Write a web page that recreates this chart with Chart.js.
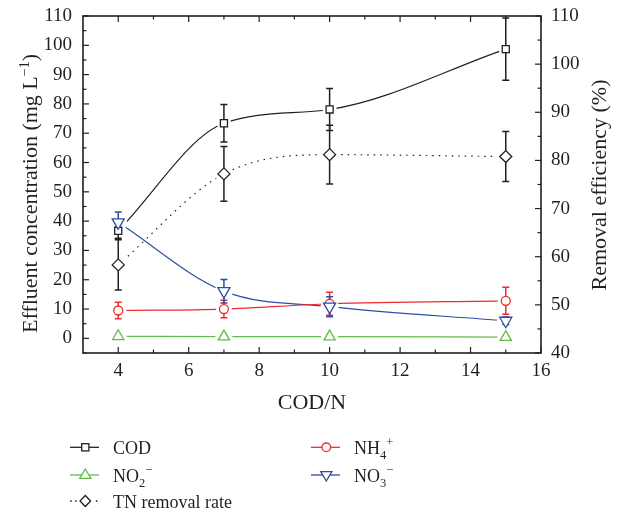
<!DOCTYPE html>
<html>
<head>
<meta charset="utf-8">
<script src="https://cdn.jsdelivr.net/npm/chart.js@4.4.0/dist/chart.umd.min.js"></script>
<style>
  html, body { margin: 0; padding: 0; background: #fff; }
  #wrap { position: relative; width: 619px; height: 511px; }
  #c { position: absolute; left: 0; top: 0; }
  #ov { position: absolute; left: 0; top: 0; pointer-events: none; }
  #ov text { font-family: "Liberation Serif", "DejaVu Serif", serif; fill: #231f20; }
</style>
</head>
<body>
<div id="wrap">
  <canvas id="c" width="619" height="511"></canvas>
  <svg id="ov" width="619" height="511" xmlns="http://www.w3.org/2000/svg">
    <!-- axis titles -->
    <text transform="translate(36.7,193.5) rotate(-90)" text-anchor="middle" font-size="22">Effluent concentration (mg L<tspan font-size="14" dy="-8">−1</tspan><tspan dy="8">)</tspan></text>
    <text transform="translate(606,185) rotate(-90)" text-anchor="middle" font-size="22">Removal efficiency (%)</text>
    <!-- legend -->
    <g id="legend"></g>
  </svg>
</div>
<script>
// ---------------- data ----------------
const codN = [4, 7, 10, 15];
const codValues = [36.7, 73.4, 78.1, 98.7];
const codErr = [2.5, 6.4, 7.2, 10.6];
const nh4Values = [9.5, 10.0, 11.8, 12.8];
const nh4Err = [2.8, 3.0, 3.9, 4.6];
const no2Values = [0.7, 0.6, 0.6, 0.4];
const no2Err = [0.6, 0.5, 0.5, 0.5];
const no3Values = [39.6, 16.1, 10.8, 6.0];
const no3Err = [3.5, 4.0, 3.4, 1.3];
const tnValues = [58.3, 77.2, 81.2, 80.8];
const tnErr = [5.2, 5.7, 6.1, 5.2];

const xTicks = [4, 6, 8, 10, 12, 14, 16];
const xMinorTicks = [5, 7, 9, 11, 13, 15];
const yTicks = [0, 10, 20, 30, 40, 50, 60, 70, 80, 90, 100, 110];
const yMinorTicks = [-5, 5, 15, 25, 35, 45, 55, 65, 75, 85, 95, 105];
const y2Ticks = [40, 50, 60, 70, 80, 90, 100, 110];
const y2MinorTicks = [45, 55, 65, 75, 85, 95, 105];

const BLACK = '#231f20', RED = '#ee2b2f', GREEN = '#62bb47', BLUE = '#2c4ea3';
const FONT = '"Liberation Serif", "DejaVu Serif", serif';

const pts = vals => vals.map((v, i) => ({ x: codN[i], y: v }));

function series(label, vals, errs, color, style, radius, rotation, axis, halo, dash) {
  return {
    label, data: pts(vals), errors: errs, halo,
    yAxisID: axis,
    borderColor: color, backgroundColor: '#fff',
    borderWidth: 1.2, borderDash: dash || [],
    cubicInterpolationMode: 'monotone',
    pointStyle: style, pointRadius: radius, pointRotation: rotation || 0,
    pointBorderColor: color, pointBackgroundColor: '#fff', pointBorderWidth: 1.3,
    fill: false
  };
}

const datasets = [
  series('COD', codValues, codErr, BLACK, 'rect', 5, 0, 'y', 7),
  series('NH4+', nh4Values, nh4Err, RED, 'circle', 4.5, 0, 'y', 8),
  series('NO2-', no2Values, no2Err, GREEN, 'triangle', 6.5, 0, 'y', 8.5),
  series('NO3-', no3Values, no3Err, BLUE, 'triangle', 7, 180, 'y', 9),
  series('TN removal rate', tnValues, tnErr, BLACK, 'rectRot', 6, 0, 'y2', 9, [1.5, 5])
];

const markerPlugin = {
  id: 'markers',
  afterDatasetsDraw(chart) {
    const ctx = chart.ctx;
    ctx.save();
    // white halos (gaps in the lines around markers)
    chart.data.datasets.forEach((ds, i) => {
      chart.getDatasetMeta(i).data.forEach(p => {
        ctx.beginPath(); ctx.fillStyle = '#fff';
        ctx.arc(p.x, p.y, ds.halo, 0, Math.PI * 2); ctx.fill();
      });
    });
    // error bars
    chart.data.datasets.forEach((ds, i) => {
      const sc = chart.scales[ds.yAxisID];
      chart.getDatasetMeta(i).data.forEach((p, j) => {
        const v = ds.data[j].y, e = ds.errors[j];
        const yt = sc.getPixelForValue(v + e), yb = sc.getPixelForValue(v - e);
        ctx.strokeStyle = ds.borderColor; ctx.lineWidth = 1.5; ctx.setLineDash([]);
        ctx.beginPath();
        ctx.moveTo(p.x, yt); ctx.lineTo(p.x, yb);
        ctx.moveTo(p.x - 3.5, yt); ctx.lineTo(p.x + 3.5, yt);
        ctx.moveTo(p.x - 3.5, yb); ctx.lineTo(p.x + 3.5, yb);
        ctx.stroke();
      });
    });
    ctx.restore();
    // markers on top
    chart.data.datasets.forEach((ds, i) => {
      chart.getDatasetMeta(i).data.forEach(p => p.draw(ctx, chart.chartArea));
    });
  }
};

const framePlugin = {
  id: 'frame',
  afterDraw(chart) {
    const { ctx, chartArea: { left, right, top, bottom }, scales: { x, y, y2 } } = chart;
    ctx.save();
    ctx.strokeStyle = BLACK; ctx.setLineDash([]);
    ctx.lineWidth = 1.2;
    const seg = (a, b, c, d) => { ctx.beginPath(); ctx.moveTo(a, b); ctx.lineTo(c, d); ctx.stroke(); };
    xTicks.forEach(v => { const p = x.getPixelForValue(v); seg(p, bottom, p, bottom - 6); seg(p, top, p, top + 6); });
    xMinorTicks.forEach(v => { const p = x.getPixelForValue(v); seg(p, bottom, p, bottom - 3.5); seg(p, top, p, top + 3.5); });
    yTicks.forEach(v => { const p = y.getPixelForValue(v); seg(left, p, left + 6, p); });
    yMinorTicks.forEach(v => { const p = y.getPixelForValue(v); seg(left, p, left + 3.5, p); });
    y2Ticks.forEach(v => { const p = y2.getPixelForValue(v); seg(right, p, right - 6, p); });
    y2MinorTicks.forEach(v => { const p = y2.getPixelForValue(v); seg(right, p, right - 3.5, p); });
    ctx.lineWidth = 1.6;
    ctx.strokeRect(left, top, right - left, bottom - top);
    ctx.restore();
  }
};

const tickFont = { family: FONT, size: 19 };
const fixTicks = arr => sc => { sc.ticks = arr.map(v => ({ value: v })); };
const fixWidth = w => s => { s.width = w; s.paddingTop = 0; s.paddingBottom = 0; };

new Chart(document.getElementById('c'), {
  type: 'line',
  data: { datasets },
  plugins: [markerPlugin, framePlugin],
  options: {
    responsive: false,
    animation: false,
    layout: { padding: { left: 0, right: 0, top: 16, bottom: 95 } },
    plugins: { legend: { display: false }, tooltip: { enabled: false } },
    scales: {
      x: {
        type: 'linear', min: 3, max: 16,
        afterBuildTicks: fixTicks(xTicks),
        afterFit: s => { s.height = 63; s.paddingLeft = 0; s.paddingRight = 0; },
        grid: { display: false, drawTicks: false },
        border: { display: false },
        ticks: { font: tickFont, color: BLACK, padding: 7, maxRotation: 0 },
        title: { display: true, text: 'COD/N', font: { family: FONT, size: 22 }, color: BLACK, padding: 0 }
      },
      y: {
        type: 'linear', position: 'left', min: -5, max: 110,
        afterBuildTicks: fixTicks(yTicks),
        afterFit: fixWidth(83),
        grid: { display: false, drawTicks: false },
        border: { display: false },
        ticks: { font: tickFont, color: BLACK, padding: 11 }
      },
      y2: {
        type: 'linear', position: 'right', min: 40, max: 110,
        afterBuildTicks: fixTicks(y2Ticks),
        afterFit: fixWidth(78),
        grid: { display: false, drawTicks: false },
        border: { display: false },
        ticks: { font: tickFont, color: BLACK, padding: 10 }
      }
    }
  }
});

// ---------------- legend (SVG, real text) ----------------
const NS = 'http://www.w3.org/2000/svg';
const lg = document.getElementById('legend');
function el(tag, attrs, parent) {
  const e = document.createElementNS(NS, tag);
  for (const k in attrs) e.setAttribute(k, attrs[k]);
  (parent || lg).appendChild(e);
  return e;
}
function marker(kind, cx, cy, color) {
  const a = { fill: '#fff', stroke: color, 'stroke-width': 1.3 };
  if (kind === 'rect') el('rect', Object.assign({ x: cx - 3.6, y: cy - 3.6, width: 7.2, height: 7.2 }, a));
  if (kind === 'circle') el('circle', Object.assign({ cx, cy, r: 4.3 }, a));
  if (kind === 'tri') el('polygon', Object.assign({ points: `${cx},${cy - 6} ${cx + 5.6},${cy + 3.3} ${cx - 5.6},${cy + 3.3}` }, a));
  if (kind === 'tridown') el('polygon', Object.assign({ points: `${cx},${cy + 6} ${cx + 5.6},${cy - 3.3} ${cx - 5.6},${cy - 3.3}` }, a));
  if (kind === 'diamond') el('polygon', Object.assign({ points: `${cx},${cy - 5.5} ${cx + 5.3},${cy} ${cx},${cy + 5.5} ${cx - 5.3},${cy}` }, a));
}
function item(x0, yLine, kind, color, dotted, textParts, baseline) {
  if (dotted) {
    [71, 76, 96.7].forEach(dx => el('rect', { x: dx - 0.8 + (x0 - 70), y: yLine - 0.7, width: 1.5, height: 1.5, fill: color }));
  } else {
    el('line', { x1: x0, y1: yLine, x2: x0 + 29, y2: yLine, stroke: color, 'stroke-width': 1.3 });
  }
  marker(kind, x0 + 15.3, yLine, color);
  const t = el('text', { x: x0 + 43, y: baseline, 'font-size': 18 });
  textParts.forEach(p => {
    const s = el('tspan', p.a || {}, t);
    s.textContent = p.t;
  });
}
item(70, 447.3, 'rect', BLACK, false, [{ t: 'COD' }], 454.3);
item(311, 447.3, 'circle', RED, false, [{ t: 'NH' }, { t: '4', a: { 'font-size': 12.5, dy: 5 } }, { t: '+', a: { 'font-size': 12.5, dy: -13 } }], 454.3);
item(70, 475, 'tri', GREEN, false, [{ t: 'NO' }, { t: '2', a: { 'font-size': 12.5, dy: 5 } }, { t: '−', a: { 'font-size': 12.5, dy: -13 } }], 481.8);
item(311, 475, 'tridown', BLUE, false, [{ t: 'NO' }, { t: '3', a: { 'font-size': 12.5, dy: 5 } }, { t: '−', a: { 'font-size': 12.5, dy: -13 } }], 481.8);
item(70, 501, 'diamond', BLACK, true, [{ t: 'TN removal rate' }], 507.5);
</script>
</body>
</html>
